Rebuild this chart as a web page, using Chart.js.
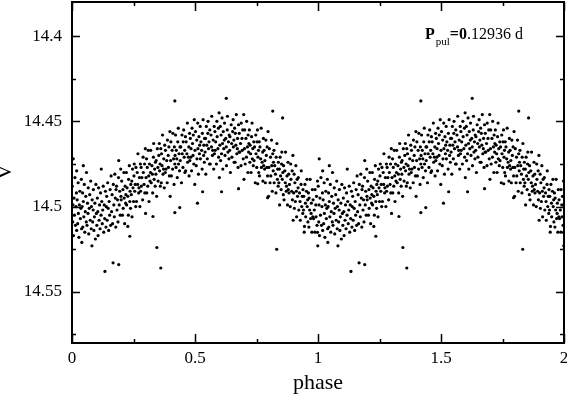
<!DOCTYPE html>
<html><head><meta charset="utf-8">
<script src="https://cdn.jsdelivr.net/npm/chart.js@4.4.1/dist/chart.umd.min.js"></script>
<style>html,body{margin:0;padding:0;background:#fff;overflow:hidden}#wrap{width:567px;height:396px;position:relative}</style>
</head><body><div id="wrap"><canvas id="c" width="567" height="396"></canvas></div>
<script>
// phase-folded light curve, one cycle (0..1); the plot shows it twice (0..2)
const phase = [
0.001,0.003,0.004,0.006,0.008,0.010,0.012,0.014,0.016,0.018,0.019,
0.021,0.023,0.025,0.026,0.028,0.030,0.032,0.034,0.036,0.038,0.039,
0.041,0.043,0.044,0.046,0.048,0.050,0.052,0.054,0.056,0.058,0.059,
0.061,0.063,0.065,0.066,0.068,0.070,0.072,0.074,0.076,0.078,0.079,
0.082,0.084,0.086,0.087,0.089,0.091,0.093,0.095,0.097,0.099,
0.101,0.103,0.105,0.106,0.108,0.110,0.112,0.114,0.116,0.118,0.119,
0.121,0.123,0.125,0.127,0.129,0.131,0.133,0.136,0.138,0.139,
0.141,0.143,0.145,0.147,0.149,0.151,0.153,0.155,0.157,0.159,
0.161,0.163,0.165,0.168,0.170,0.172,0.174,0.176,0.178,0.179,
0.181,0.183,0.185,0.187,0.189,0.192,0.194,0.196,0.198,0.199,
0.200,0.202,0.205,0.207,0.208,0.211,0.212,0.214,0.216,0.218,0.219,
0.221,0.222,0.224,0.227,0.229,0.230,0.233,0.235,0.236,0.238,0.239,
0.241,0.243,0.244,0.246,0.248,0.250,0.252,0.253,0.255,0.257,0.259,
0.260,0.262,0.265,0.267,0.268,0.271,0.272,0.274,0.276,0.278,0.279,
0.281,0.282,0.284,0.287,0.289,0.290,0.293,0.295,0.296,0.298,0.299,
0.301,0.303,0.304,0.306,0.308,0.310,0.312,0.313,0.315,0.317,0.319,
0.320,0.322,0.325,0.327,0.328,0.331,0.332,0.334,0.336,0.338,0.339,
0.341,0.342,0.344,0.347,0.349,0.350,0.353,0.355,0.356,0.358,0.359,
0.361,0.363,0.364,0.366,0.368,0.370,0.372,0.373,0.375,0.377,0.379,
0.380,0.382,0.385,0.387,0.388,0.391,0.392,0.394,0.396,0.398,0.399,
0.401,0.402,0.404,0.407,0.409,0.410,0.413,0.415,0.416,0.418,0.419,
0.421,0.423,0.424,0.426,0.428,0.430,0.432,0.433,0.435,0.437,0.439,
0.440,0.442,0.445,0.447,0.448,0.451,0.452,0.454,0.456,0.458,0.459,
0.461,0.462,0.464,0.467,0.469,0.470,0.473,0.475,0.476,0.478,0.479,
0.481,0.483,0.484,0.486,0.488,0.490,0.492,0.493,0.495,0.497,0.499,
0.500,0.502,0.505,0.507,0.508,0.511,0.512,0.514,0.516,0.518,0.519,
0.521,0.522,0.524,0.527,0.529,0.530,0.533,0.535,0.536,0.538,0.539,
0.541,0.543,0.544,0.546,0.548,0.550,0.552,0.553,0.555,0.557,0.559,
0.560,0.562,0.565,0.567,0.568,0.571,0.572,0.574,0.576,0.578,0.579,
0.581,0.582,0.584,0.587,0.589,0.590,0.593,0.595,0.596,0.598,0.599,
0.601,0.603,0.604,0.606,0.608,0.610,0.612,0.613,0.615,0.617,0.619,
0.620,0.622,0.625,0.627,0.628,0.631,0.632,0.634,0.636,0.638,0.639,
0.641,0.642,0.644,0.647,0.649,0.650,0.653,0.655,0.656,0.658,0.659,
0.661,0.663,0.664,0.666,0.668,0.670,0.672,0.673,0.675,0.677,0.679,
0.680,0.682,0.685,0.687,0.688,0.691,0.692,0.694,0.696,0.698,0.699,
0.701,0.702,0.704,0.707,0.709,0.710,0.713,0.715,0.716,0.718,0.719,
0.721,0.723,0.724,0.726,0.728,0.730,0.732,0.733,0.735,0.737,0.739,
0.740,0.742,0.745,0.747,0.748,0.751,0.752,0.754,0.756,0.758,0.759,
0.761,0.762,0.764,0.767,0.769,0.770,0.773,0.775,0.776,0.778,0.779,
0.781,0.783,0.784,0.786,0.788,0.790,0.792,0.793,0.795,0.797,0.799,
0.800,0.802,0.805,0.807,0.808,0.811,0.812,0.814,0.816,0.818,0.819,
0.821,0.822,0.824,0.827,0.829,0.830,0.833,0.835,0.836,0.838,0.839,
0.841,0.843,0.844,0.846,0.848,0.850,0.852,0.853,0.855,0.857,0.859,
0.860,0.862,0.865,0.867,0.868,0.871,0.872,0.874,0.876,0.878,0.879,
0.881,0.882,0.884,0.887,0.889,0.890,0.893,0.895,0.896,0.898,0.899,
0.901,0.903,0.904,0.906,0.908,0.910,0.912,0.913,0.915,0.917,0.919,
0.920,0.922,0.925,0.927,0.928,0.931,0.932,0.934,0.936,0.938,0.939,
0.941,0.942,0.944,0.947,0.949,0.950,0.953,0.955,0.956,0.958,0.959,
0.961,0.963,0.964,0.966,0.968,0.970,0.972,0.973,0.975,0.977,0.979,
0.980,0.982,0.985,0.987,0.988,0.991,0.992,0.994,0.996,0.998,0.999
];
const vmag = [
14.4880,14.5090,14.4990,14.5170,14.4950,14.5050,14.4830,14.5110,14.5000,14.4920,14.5140,
14.4960,14.5100,14.4860,14.5040,14.5180,14.4990,14.4910,14.5070,14.5010,14.4840,14.5130,
14.5000,14.4920,14.5120,14.4970,14.5060,14.4870,14.5150,14.5030,14.4940,14.5090,14.4800,
14.5110,14.4980,14.5040,14.4890,14.5160,14.5010,14.4930,14.5080,14.4850,14.5130,14.5000,
14.4960,14.5090,14.5020,14.4900,14.5140,14.5060,14.4980,14.5190,14.4870,14.5040,
14.5110,14.4950,14.5030,14.5170,14.4890,14.5080,14.4990,14.5130,14.4920,14.5050,14.4780,
14.4970,14.5100,14.5020,14.4880,14.5150,14.4990,14.5070,14.4910,14.5120,14.5000,
14.4940,14.5080,14.4860,14.5010,14.5140,14.4970,14.5050,14.4900,14.5110,14.4820,
14.5030,14.4930,14.5100,14.4870,14.4990,14.5060,14.4810,14.4950,14.5120,14.4900,
14.4880,14.5020,14.4960,14.5090,14.4830,14.4990,14.4910,14.5050,14.4780,14.4940,
14.4960,14.4850,14.5050,14.4900,14.5010,14.4800,14.4950,14.5100,14.4880,14.4980,14.4930,
14.4800,14.4990,14.4890,14.4940,14.5050,14.4840,14.4760,14.4970,14.4910,14.5010,14.4870,
14.4930,14.4850,14.5060,14.4780,14.4890,14.4970,14.4820,14.4750,14.4910,14.4870,14.5000,
14.4770,14.4970,14.4800,14.4870,14.4690,14.4920,14.4890,14.4830,14.5000,14.4750,14.4910,
14.4770,14.4880,14.4830,14.4960,14.4710,14.4800,14.4870,14.4750,14.4920,14.4660,14.5040,
14.4830,14.4720,14.4920,14.4770,14.4880,14.4670,14.4820,14.4970,14.4750,14.4850,14.4800,
14.4670,14.4860,14.4760,14.4810,14.4920,14.4710,14.4630,14.4840,14.4780,14.4880,14.4740,
14.4810,14.4730,14.4940,14.4660,14.4770,14.4850,14.4700,14.4630,14.4790,14.4750,14.4880,
14.4660,14.4860,14.4690,14.4760,14.4580,14.4810,14.4780,14.4720,14.4890,14.4640,14.4800,
14.4670,14.4780,14.4730,14.4860,14.4610,14.4700,14.4770,14.4650,14.4820,14.4560,14.4940,
14.4730,14.4620,14.4820,14.4670,14.4780,14.4570,14.4720,14.4870,14.4650,14.4750,14.4700,
14.4580,14.4770,14.4670,14.4720,14.4830,14.4620,14.4540,14.4750,14.4690,14.4790,14.4650,
14.4730,14.4650,14.4860,14.4580,14.4690,14.4770,14.4620,14.4550,14.4710,14.4670,14.4800,
14.4590,14.4790,14.4620,14.4690,14.4510,14.4740,14.4710,14.4650,14.4820,14.4570,14.4730,
14.4600,14.4710,14.4660,14.4790,14.4540,14.4630,14.4700,14.4580,14.4750,14.4490,14.4870,
14.4670,14.4560,14.4760,14.4610,14.4720,14.4510,14.4660,14.4810,14.4590,14.4690,14.4640,
14.4530,14.4720,14.4620,14.4670,14.4780,14.4570,14.4490,14.4700,14.4640,14.4740,14.4600,
14.4680,14.4600,14.4810,14.4530,14.4640,14.4720,14.4570,14.4500,14.4660,14.4620,14.4750,
14.4550,14.4750,14.4580,14.4650,14.4470,14.4700,14.4670,14.4610,14.4780,14.4530,14.4690,
14.4560,14.4670,14.4620,14.4750,14.4500,14.4590,14.4660,14.4540,14.4710,14.4450,14.4830,
14.4640,14.4530,14.4730,14.4580,14.4690,14.4480,14.4630,14.4780,14.4560,14.4660,14.4610,
14.4510,14.4700,14.4600,14.4650,14.4760,14.4550,14.4470,14.4680,14.4620,14.4720,14.4580,
14.4670,14.4590,14.4800,14.4520,14.4630,14.4710,14.4560,14.4490,14.4650,14.4610,14.4740,
14.4540,14.4740,14.4570,14.4640,14.4460,14.4690,14.4660,14.4600,14.4770,14.4520,14.4680,
14.4570,14.4680,14.4630,14.4760,14.4510,14.4600,14.4670,14.4550,14.4720,14.4460,14.4840,
14.4660,14.4550,14.4750,14.4600,14.4710,14.4500,14.4650,14.4800,14.4580,14.4680,14.4630,
14.4550,14.4740,14.4640,14.4690,14.4800,14.4590,14.4510,14.4720,14.4660,14.4760,14.4620,
14.4730,14.4650,14.4860,14.4580,14.4690,14.4770,14.4620,14.4550,14.4710,14.4670,14.4800,
14.4620,14.4820,14.4650,14.4720,14.4540,14.4770,14.4740,14.4680,14.4850,14.4600,14.4760,
14.4670,14.4780,14.4730,14.4860,14.4610,14.4700,14.4770,14.4650,14.4820,14.4560,14.4940,
14.4770,14.4660,14.4860,14.4710,14.4820,14.4610,14.4760,14.4910,14.4690,14.4790,14.4740,
14.4670,14.4860,14.4760,14.4810,14.4920,14.4710,14.4630,14.4840,14.4780,14.4880,14.4740,
14.4860,14.4780,14.4990,14.4710,14.4820,14.4900,14.4750,14.4680,14.4840,14.4800,14.4930,
14.4760,14.4960,14.4790,14.4860,14.4680,14.4910,14.4880,14.4820,14.4990,14.4740,14.4900,
14.4810,14.4920,14.4870,14.5000,14.4750,14.4840,14.4910,14.4790,14.4960,14.4700,14.5080,
14.4920,14.4810,14.5010,14.4860,14.4970,14.4760,14.4910,14.5060,14.4840,14.4940,14.4890,
14.4830,14.5020,14.4920,14.4970,14.5080,14.4870,14.4790,14.5000,14.4940,14.5040,14.4900,
14.5020,14.4940,14.5150,14.4870,14.4980,14.5060,14.4910,14.4840,14.5000,14.4960,14.5090,
14.4920,14.5120,14.4950,14.5020,14.4840,14.5070,14.5040,14.4980,14.5150,14.4900,14.5060,
14.4960,14.5070,14.5020,14.5150,14.4900,14.4990,14.5060,14.4940,14.5110,14.4850,14.5230
];
// isolated points read individually
const outPhase = [0.005,0.019,0.046,0.040,0.081,0.134,0.167,0.190,0.190,0.227,0.235,0.329,0.345,0.361,0.418,0.418,0.438,0.510,0.531,0.608,0.627,0.677,0.755,0.795,0.816,0.832,0.856,0.945,0.998];
const outVmag  = [14.4720,14.4790,14.4760,14.5210,14.5230,14.5380,14.5330,14.5340,14.4730,14.5116,14.5174,14.5058,14.5240,14.5360,14.4380,14.5035,14.5006,14.4980,14.4913,14.4913,14.4365,14.4895,14.4866,14.4948,14.4440,14.5250,14.4480,14.5116,14.5151];

const cycles = [0, 1];
const xMajor = [0, 0.5, 1, 1.5, 2];
const xLabels = ['0', '0.5', '1', '1.5', '2'];
const xMinor = [0.25, 0.75, 1.25, 1.75];
const yMajor = [14.4, 14.45, 14.5, 14.55];
const yLabels = ['14.4', '14.45', '14.5', '14.55'];
const yMinor = [14.425, 14.475, 14.525, 14.575];
const xTitle = 'phase';
const yTitle = 'V';

const allP = phase.concat(outPhase);
const allV = vmag.concat(outVmag);
const points = [];
cycles.forEach(c => allP.forEach((p, i) => points.push({x: p + c, y: allV[i]})));

const SERIF = '"Liberation Serif", "Times New Roman", serif';

const framePlugin = {
  id: 'frame',
  afterDatasetsDraw(chart) {
    const {ctx, chartArea: a, scales: {x, y}} = chart;
    ctx.save();
    ctx.strokeStyle = '#000';
    ctx.lineWidth = 1.5;
    const tick = (vals, len, axis) => {
      vals.forEach(v => {
        if (axis === 'x') {
          const px = Math.round(x.getPixelForValue(v)) + 0.5;
          ctx.beginPath();
          ctx.moveTo(px, a.bottom); ctx.lineTo(px, a.bottom - len);
          ctx.moveTo(px, a.top); ctx.lineTo(px, a.top + len);
          ctx.stroke();
        } else {
          const py = Math.round(y.getPixelForValue(v)) + 0.5;
          ctx.beginPath();
          ctx.moveTo(a.left, py); ctx.lineTo(a.left + len, py);
          ctx.moveTo(a.right, py); ctx.lineTo(a.right - len, py);
          ctx.stroke();
        }
      });
    };
    tick(xMajor, 9, 'x'); tick(xMinor, 4, 'x');
    tick(yMajor, 8, 'y'); tick(yMinor, 4, 'y');
    ctx.lineWidth = 2;
    ctx.strokeRect(a.left, a.top, a.right - a.left, a.bottom - a.top);
    ctx.restore();
  },
  afterDraw(chart) {
    const ctx = chart.ctx;
    ctx.save();
    ctx.fillStyle = '#000';
    ctx.translate(5, 172);
    ctx.rotate(-Math.PI / 2);
    ctx.textAlign = 'center';
    ctx.textBaseline = 'middle';
    ctx.font = '22px ' + SERIF;
    ctx.fillText(yTitle, 0, 0);
    ctx.restore();
    ctx.save();
    ctx.fillStyle = '#000';
    ctx.textBaseline = 'alphabetic';
    ctx.textAlign = 'left';
    let xx = 425;
    ctx.font = 'bold 16px ' + SERIF;
    ctx.fillText('P', xx, 39); xx += ctx.measureText('P').width;
    ctx.font = '11px ' + SERIF;
    ctx.fillText('pul', xx + 1, 45); xx += ctx.measureText('pul').width + 1;
    ctx.font = 'bold 16px ' + SERIF;
    ctx.fillText('=0', xx, 39); xx += ctx.measureText('=0').width;
    ctx.font = '16px ' + SERIF;
    ctx.fillText('.12936 d', xx, 39);
    ctx.restore();
  }
};

new Chart(document.getElementById('c'), {
  type: 'scatter',
  data: { datasets: [{ data: points, pointRadius: 1.6, pointHoverRadius: 1.6, pointBorderWidth: 0, backgroundColor: '#000', borderColor: '#000' }] },
  options: {
    responsive: false, animation: false, devicePixelRatio: 1,
    layout: { padding: { top: 2, right: 3, left: 0, bottom: 0 } },
    plugins: { legend: { display: false }, tooltip: { enabled: false } },
    scales: {
      x: {
        type: 'linear', min: 0, max: 2,
        afterFit(s) { s.height = 53; s.paddingLeft = 0; s.paddingRight = 0; s.paddingTop = 0; s.paddingBottom = 0; },
        afterBuildTicks(s) { s.ticks = xMajor.map(v => ({value: v})); },
        ticks: { callback: (v, i) => xLabels[i], font: { family: SERIF, size: 17 }, color: '#000', padding: 5, maxRotation: 0, autoSkip: false },
        grid: { display: false, drawTicks: false },
        border: { display: false },
        title: { display: true, text: xTitle, font: { family: SERIF, size: 22 }, color: '#000', padding: { top: 0, bottom: 0 } }
      },
      y: {
        type: 'linear', reverse: true, min: 14.38, max: 14.58,
        afterFit(s) { s.width = 72; s.paddingTop = 0; s.paddingBottom = 0; s.paddingLeft = 0; s.paddingRight = 0; },
        afterBuildTicks(s) { s.ticks = yMajor.map(v => ({value: v})); },
        ticks: { callback: (v, i) => yLabels[i], font: { family: SERIF, size: 17 }, color: '#000', padding: 10, autoSkip: false },
        grid: { display: false, drawTicks: false },
        border: { display: false }
      }
    }
  },
  plugins: [framePlugin]
});
</script>
</body></html>
